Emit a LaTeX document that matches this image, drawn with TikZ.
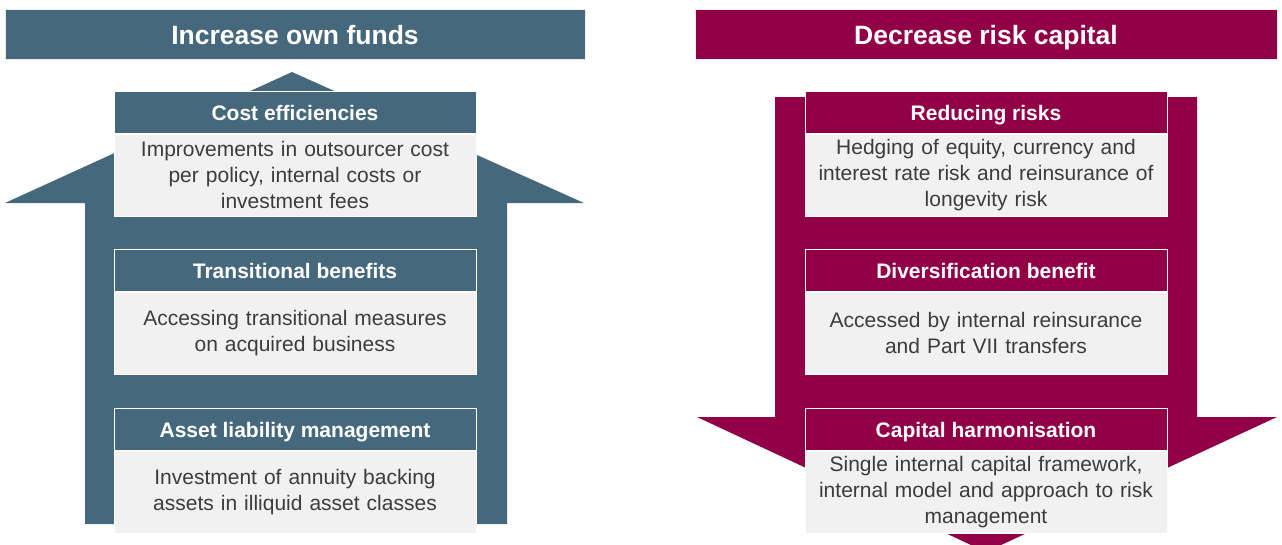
\documentclass[tikz,border=0pt]{standalone}
\usepackage{fontspec}
\setmainfont{Liberation Sans}
\usepackage{tikz}
\usetikzlibrary{positioning}

\definecolor{ownblue}{RGB}{70,104,124}
\definecolor{riskred}{RGB}{145,0,70}
\definecolor{bodygray}{RGB}{241,241,241}
\definecolor{bodytext}{RGB}{60,60,60}

\begin{document}
\begin{tikzpicture}[x=1pt, y=-1pt, line width=1pt,
    titlebar/.style={minimum width=580pt, minimum height=50pt, inner sep=0pt,
      text height=22pt, text depth=2pt,
      text=white, font=\fontsize{26.5}{30}\selectfont\bfseries,
      draw=white!85!gray, line width=0.6pt},
    headbox/.style={minimum width=362pt, minimum height=42pt, inner sep=0pt,
      text height=18pt, text depth=1pt,
      text=white, font=\fontsize{21}{24}\selectfont\bfseries,
      draw=white, line width=0.8pt},
    bodybox/.style={minimum width=362pt, minimum height=82pt, text width=355pt,
      align=center, inner sep=0pt, fill=bodygray, text=bodytext,
      font=\fontsize{21}{26}\selectfont, draw=white, line width=0.8pt}]

    \useasboundingbox (0, 0) rectangle (1282, 544);
    \clip (0, 0) rectangle (1282, 544);

    % draw title bars
    \node[titlebar, fill=ownblue] (ownfunds) at (295, 34) {Increase own funds};
    \node[titlebar, fill=riskred, minimum width=582pt] (riskcap) at (986, 34) {Decrease risk capital};

    % draw up arrow
    \fill[color=ownblue] (292, 72) -- (584, 203) -- (507, 203) -- (507, 524)
      -- (85, 524) -- (85, 203) -- (5, 203) -- cycle;

    % draw down arrow
    \fill[color=riskred] (775, 97) -- (1197, 97) -- (1197, 417) -- (1277, 417)
      -- (986, 552) -- (697, 417) -- (775, 417) -- cycle;

    % draw left boxes
    \node[headbox, fill=ownblue, anchor=north] (cost) at (295, 91) {Cost efficiencies};
    \node[bodybox, below=0pt of cost] (costtext)
      {Improvements in outsourcer cost\\per policy, internal costs or\\investment fees};

    \node[headbox, fill=ownblue, anchor=north] (trans) at (295, 249) {Transitional benefits};
    \node[bodybox, below=0pt of trans] (transtext)
      {Accessing transitional measures\\on acquired business};

    \node[headbox, fill=ownblue, anchor=north] (alm) at (295, 408) {Asset liability management};
    \node[bodybox, below=0pt of alm] (almtext)
      {Investment of annuity backing\\assets in illiquid asset classes};

    % draw right boxes
    \node[headbox, fill=riskred, anchor=north] (reduce) at (986, 91) {Reducing risks};
    \node[bodybox, below=0pt of reduce] (reducetext)
      {Hedging of equity, currency and\\interest rate risk and reinsurance of\\longevity risk};

    \node[headbox, fill=riskred, anchor=north] (divers) at (986, 249) {Diversification benefit};
    \node[bodybox, below=0pt of divers] (diverstext)
      {Accessed by internal reinsurance\\and Part VII transfers};

    \node[headbox, fill=riskred, anchor=north] (harmon) at (986, 408) {Capital harmonisation};
    \node[bodybox, below=0pt of harmon] (harmontext)
      {Single internal capital framework,\\internal model and approach to risk\\management};

\end{tikzpicture}
\end{document}
